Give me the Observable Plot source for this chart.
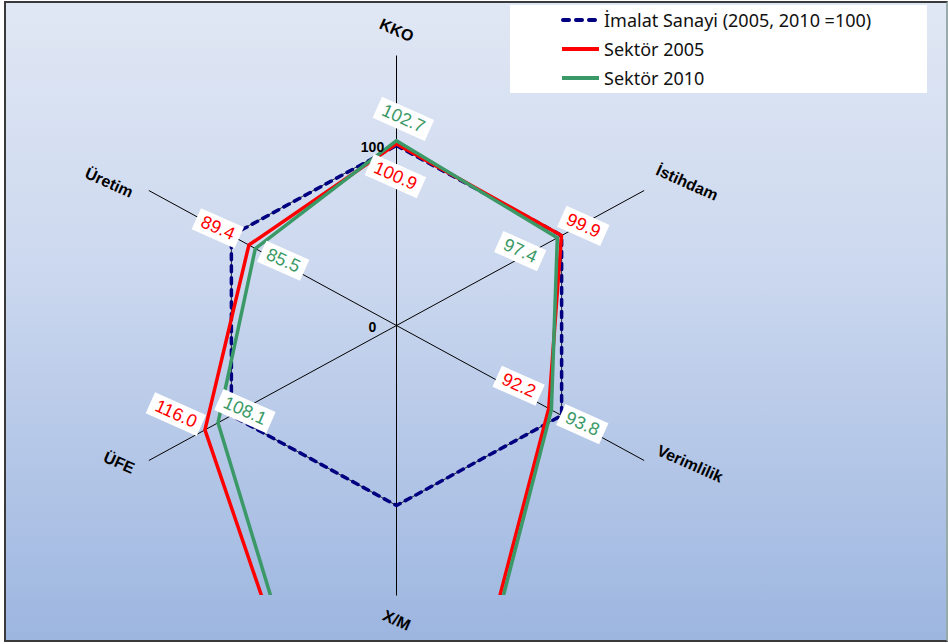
<!DOCTYPE html>
<html>
<head>
<meta charset="utf-8">
<script src="https://cdn.jsdelivr.net/npm/d3@7"></script>
<script src="https://cdn.jsdelivr.net/npm/@observablehq/plot@0.6"></script>
<style>
  html, body { margin: 0; padding: 0; width: 948px; height: 644px; overflow: hidden; background: #fff; }
  #frame { position: absolute; left: 4px; top: 1px; width: 940px; height: 637px;
           border: 2px solid #3a3a3a; border-right-color: #9aa; background: linear-gradient(180deg, #e0e7f4 0%, #cdd9ef 40%, #9db6e0 100%); }
  #plot { position: absolute; left: 0; top: 0; }
  #legend { position: absolute; left: 510px; top: 5px; width: 417px; height: 88px; background: #fff;
            font-family: "Noto Sans", "Liberation Sans", sans-serif; font-size: 18px; color: #111; }
  .item { position: absolute; left: 51px; display: flex; align-items: center; height: 20px; }
  .item svg { margin-right: 3px; }
</style>
</head>
<body>
<div id="frame"></div>
<div id="plot"></div>
<div id="legend">
  <div class="item" style="top:5px"><svg width="40" height="8"><line x1="2" y1="4" x2="38" y2="4" stroke="#000080" stroke-width="4" stroke-dasharray="6,7" stroke-linecap="round"/></svg><span>İmalat Sanayi (2005, 2010 =100)</span></div>
  <div class="item" style="top:34px"><svg width="40" height="8"><line x1="1" y1="4" x2="38" y2="4" stroke="#ff0000" stroke-width="4"/></svg><span>Sektör 2005</span></div>
  <div class="item" style="top:63px"><svg width="40" height="8"><line x1="1" y1="4" x2="38" y2="4" stroke="#3a9966" stroke-width="4"/></svg><span>Sektör 2010</span></div>
</div>
<script>
// ---- data ----
const axisNames = ["KKO", "İstihdam", "Verimlilik", "X/M", "ÜFE", "Üretim"];
const imalat = [100, 100, 100, 100, 100, 100];
const sektor2005 = [100.9, 99.9, 92.2, 370, 116.0, 89.4];
const sektor2010 = [102.7, 97.4, 93.8, 380, 108.1, 85.5];
const labelled2005 = ["100.9", "99.9", "92.2", null, "116.0", "89.4"];
const labelled2010 = ["102.7", "97.4", "93.8", null, "108.1", "85.5"];
const gridValues = [100];
const axisMax = 150;
const tickLabels = [{v: 0, text: "0"}, {v: 100, text: "100"}];

// ---- styles / offsets (pixels) ----
const RED = "#ff0000", GREEN = "#3a9966", NAVY = "#000080";
const off2005 = [[-1, 32], [22, -10], [-30, -23], null, [-29, -16], [-31, -17]];
const off2010 = [[7, -22], [-37, 13], [31, 14], null, [27, -12], [28, 12]];
const axisLabelOff = [[0, 2], [18, 6], [21, -10], [0, -2], [-5, -11], [-15, 6]];

const ang = i => i * Math.PI / 3;
const pt = (r, i) => ({x: r * Math.sin(ang(i)), y: r * Math.cos(ang(i))});
const poly = (vals, name) => vals.map((v, i) => ({...pt(v, i), name, axis: axisNames[i], value: v}));

const marks = [];
for (const g of gridValues) marks.push(Plot.line(poly(axisNames.map(() => g), "grid"), {x: "x", y: "y", curve: "linear-closed", stroke: "#000", strokeWidth: 0.8}));
marks.push(Plot.link(axisNames.map((a, i) => { const p = pt(axisMax, i); return {x1: 0, y1: 0, x2: p.x, y2: p.y}; }), {x1: "x1", y1: "y1", x2: "x2", y2: "y2", stroke: "#000", strokeWidth: 1}));
marks.push(Plot.line(poly(imalat, "imalat"), {x: "x", y: "y", curve: "linear-closed", stroke: NAVY, strokeWidth: 3.5, strokeDasharray: "6,6", strokeLinecap: "round"}));
marks.push(Plot.line(poly(sektor2005, "2005"), {x: "x", y: "y", curve: "linear-closed", stroke: RED, strokeWidth: 3.5, clip: true}));
marks.push(Plot.line(poly(sektor2010, "2010"), {x: "x", y: "y", curve: "linear-closed", stroke: GREEN, strokeWidth: 3.5, clip: true}));
marks.push(Plot.text(tickLabels.map(t => ({...pt(t.v, 0), text: t.text})), {x: "x", y: "y", text: "text", dx: -24, dy: 2, textAnchor: "middle", fontWeight: "bold", fontSize: 14, fill: "#000"}));
function valueLabels(vals, texts, offs, color) {
  vals.forEach((v, i) => {
    if (texts[i] == null) return;
    marks.push(Plot.text([{...pt(v, i), text: texts[i]}], {x: "x", y: "y", text: "text", dx: offs[i][0], dy: offs[i][1], rotate: 24, fill: color, fontSize: 18, textAnchor: "middle"}));
  });
}
valueLabels(sektor2005, labelled2005, off2005, RED);
valueLabels(sektor2010, labelled2010, off2010, GREEN);
axisNames.forEach((a, i) => {
  const p = pt(165, i);
  marks.push(Plot.text([{...p, text: a}], {x: "x", y: "y", text: "text", dx: axisLabelOff[i][0], dy: axisLabelOff[i][1], rotate: 24, fontWeight: "bold", fontSize: 16, fill: "#000", textAnchor: "middle"}));
});

const chart = Plot.plot({
  width: 948, height: 644,
  marginLeft: 110, marginRight: 266, marginTop: 55, marginBottom: 49,
  x: {domain: [-axisMax, axisMax], axis: null},
  y: {domain: [-axisMax, axisMax], axis: null},
  style: {background: "transparent", fontFamily: "'Liberation Sans', Arial, sans-serif", overflow: "visible"},
  marks
});
document.getElementById("plot").appendChild(chart);

// white boxes behind value labels
const boxed = new Set([...labelled2005, ...labelled2010].filter(d => d != null));
chart.querySelectorAll("text").forEach(t => {
  if (!boxed.has(t.textContent.trim())) return;
  const b = t.getBBox();
  const r = document.createElementNS("http://www.w3.org/2000/svg", "rect");
  r.setAttribute("x", b.x - 6); r.setAttribute("y", b.y - 1);
  r.setAttribute("width", b.width + 12); r.setAttribute("height", b.height + 3);
  r.setAttribute("fill", "#ffffff");
  r.setAttribute("stroke", "none");
  const tr = t.getAttribute("transform");
  if (tr) r.setAttribute("transform", tr);
  t.parentNode.insertBefore(r, t);
});
</script>
</body>
</html>
